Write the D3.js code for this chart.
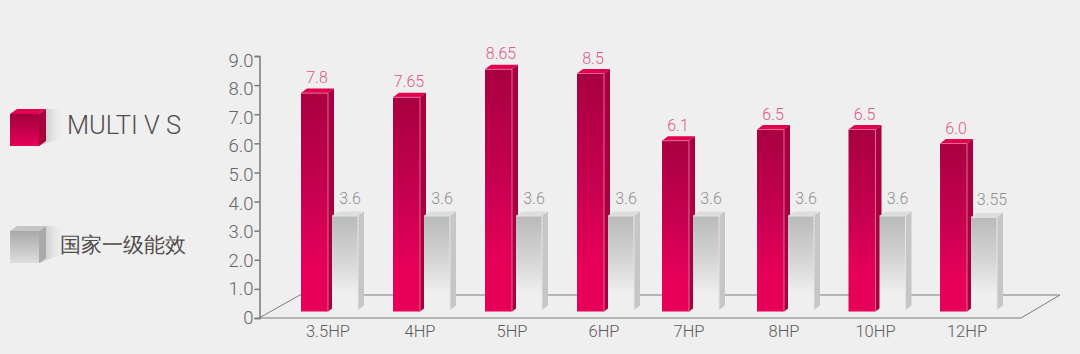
<!DOCTYPE html>
<html><head><meta charset="utf-8">
<script src="https://cdn.jsdelivr.net/npm/d3@7/dist/d3.min.js"></script>
<style>html,body{margin:0;background:#efefef}svg{display:block}text{font-family:Roboto,"Liberation Sans",sans-serif;font-weight:300}</style>
</head><body><svg id="c" width="1080" height="354"></svg>
<script>
const categories=["3.5HP","4HP","5HP","6HP","7HP","8HP","10HP","12HP"];
const multiVS=[7.8,7.65,8.65,8.5,6.1,6.5,6.5,6.0];
const multiLabels=["7.8","7.65","8.65","8.5","6.1","6.5","6.5","6.0"];
const gradeOne=[3.6,3.6,3.6,3.6,3.6,3.6,3.6,3.55];
const gradeLabels=["3.6","3.6","3.6","3.6","3.6","3.6","3.6","3.55"];
const ticks=[0,1,2,3,4,5,6,7,8,9];
const legendNames=["MULTI V S","国家一级能效"];

const svg=d3.select("#c");
const defs=svg.append("defs");
function grad(id,stops,x2=0,y2=1){
  const g=defs.append("linearGradient").attr("id",id).attr("x1",0).attr("y1",0).attr("x2",x2).attr("y2",y2);
  stops.forEach(s=>g.append("stop").attr("offset",s[0]).attr("stop-color",s[1]).attr("stop-opacity",s[2]===undefined?1:s[2]));
}
grad("redF",[[0,"#a80040"],[0.45,"#c60050"],[0.8,"#e6005a"],[1,"#e6005a"]]);
grad("greyF",[[0,"#b9bbba"],[0.5,"#d6d7d6"],[0.82,"#efefef"],[1,"#efefef"]]);
grad("legRed",[[0,"#a0003c"],[1,"#e6005a"]]);
grad("legGrey",[[0,"#a8a9a9"],[1,"#dcdddc"]]);
grad("shade",[[0,"#b4b5b5",1],[1,"#efefef",0]],1,0);

const y=d3.scaleLinear().domain([0,9]).range([318,56]);
const yLabel=d3.scaleLinear().domain([0,9]).range([316.7,59.5]);
const yBar=d3.scaleLinear().domain([0,9]).range([311.5,59.5]);
const yGrey=d3.scaleLinear().domain([0,9]).range([310,75]);
const idx=new Map(categories.map((c,i)=>[c,i]));
const xPos=d3.scaleLinear().domain([0,3,4,5,7]).range([301,577,662,757,940]);
const x=c=>xPos(idx.get(c));
const barW=27,dx=6,dy=4.5,greyOff=31,greyW=26;

// floor
const floor=d3.line();
svg.append("path")
  .attr("d",floor([[259,318],[300,295],[1060,295],[1021,318],[259,318]]))
  .attr("fill","none").attr("stroke","#7d7d7d").attr("stroke-width",1);

// axis
const axis=d3.axisLeft(y).tickValues(ticks).tickSize(5).tickPadding(1)
  .tickFormat(d=>d===0?"0":d.toFixed(1));
const ag=svg.append("g").attr("transform","translate(259.5,0)").call(axis);
ag.selectAll("path,line").attr("stroke","#7a7a7a").attr("stroke-width",1.5);
ag.selectAll("text").attr("font-size",18.5).attr("fill","#666")
  .attr("font-family",'Roboto').attr("y",d=>yLabel(d)-y(d)).attr("dy","0.36em");

function drawBar(g,x0,w,yt,yb,front,top,side,edge){
  g.append("polygon").attr("points",[[x0,yt],[x0+dx,yt-dy],[x0+w+dx,yt-dy],[x0+w,yt]].join(" ")).attr("fill",top);
  g.append("polygon").attr("points",[[x0+w,yt],[x0+w+dx,yt-dy],[x0+w+dx,yb-dy],[x0+w,yb]].join(" ")).attr("fill",side);
  g.append("rect").attr("x",x0).attr("y",yt).attr("width",w).attr("height",yb-yt).attr("fill",front);
  g.append("line").attr("x1",x0+w).attr("x2",x0+w).attr("y1",yt).attr("y2",yb).attr("stroke",edge).attr("stroke-width",1);
  g.append("line").attr("x1",x0).attr("x2",x0+w).attr("y1",yt).attr("y2",yt).attr("stroke",edge).attr("stroke-width",1);
}
const bars=svg.append("g");
categories.forEach((c,i)=>{
  const gg=bars.append("g"), gr=bars.append("g");
  drawBar(gr,x(c)+greyOff,greyW,yGrey(gradeOne[i]),yGrey(0),"url(#greyF)","#dcdddc","#c5c6c5","#e4e4e4");
  drawBar(gg,x(c),barW,yBar(multiVS[i]),yBar(0),"url(#redF)","#e2004f","#a80040","#e46a93");
  svg.append("text").attr("x",x(c)+16).attr("y",yBar(multiVS[i])-10).attr("text-anchor","middle")
    .attr("font-size",16).attr("fill","#dc5a84").text(multiLabels[i]);
  svg.append("text").attr("x",x(c)+greyOff+18+(gradeLabels[i].length>3?3:0)).attr("y",yGrey(gradeOne[i])-12).attr("text-anchor","middle")
    .attr("font-size",16).attr("fill","#8f8f8f").text(gradeLabels[i]);
  svg.append("text").attr("x",x(c)+27).attr("y",337).attr("text-anchor","middle")
    .attr("font-size",16.5).attr("fill","#5f5b5b").text(c);
});

// legend
const legendY=d3.scalePoint().domain(legendNames).range([114,231]);
legendNames.forEach((n,i)=>{
  const t=legendY(n),g=svg.append("g"),L=10,w=29,h=32,dd=7;
  g.append("polygon").attr("points",[[L+w,t+h],[L+w+dd,t-5],[L+w+26,t-5],[L+w+26,t+22]].join(" ")).attr("fill","url(#shade)");
  g.append("polygon").attr("points",[[L,t],[L+dd,t-5],[L+w+dd,t-5],[L+w,t]].join(" ")).attr("fill",i?"#c4c5c4":"#e2004f");
  g.append("polygon").attr("points",[[L+w,t],[L+w+dd,t-5],[L+w+dd,t+h-5],[L+w,t+h]].join(" ")).attr("fill",i?"#a9aaa9":"#a80040");
  g.append("rect").attr("x",L).attr("y",t).attr("width",w).attr("height",h).attr("fill",i?"url(#legGrey)":"url(#legRed)");
  g.append("text").attr("x",i?60:67).attr("y",i?t+21:t+19.5).attr("font-size",i?21:25.5)
    .attr("font-family",i?'"Noto Sans CJK SC"':'Roboto')
    .attr("fill","#514c4c").text(n);
});
</script></body></html>
